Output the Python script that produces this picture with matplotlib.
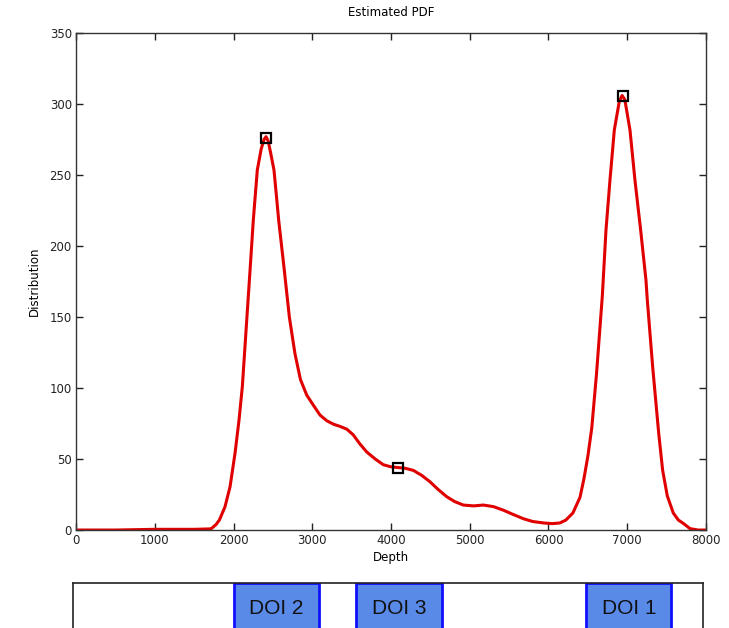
import matplotlib
matplotlib.use("Agg")
import matplotlib.pyplot as plt
from matplotlib.patches import Rectangle

# estimated PDF (depth, distribution)
depth = [0, 500, 1000, 1500, 1700, 1723, 1780, 1820, 1892, 1956, 2019, 2070,
         2112, 2168, 2210, 2251, 2302, 2350, 2387, 2413, 2440, 2470, 2514,
         2574, 2645, 2709, 2781, 2850, 2930, 3013, 3098, 3183, 3270, 3352,
         3440, 3521, 3600, 3691, 3800, 3902, 4000, 4089, 4180, 4284, 4390,
         4495, 4600, 4707, 4810, 4918, 5050, 5172, 5300, 5426, 5550, 5680,
         5800, 5934, 6050, 6146, 6220, 6310, 6400, 6450, 6500, 6550, 6610,
         6684, 6730, 6781, 6836, 6900, 6935, 6970, 7035, 7098, 7171, 7238,
         7255, 7323, 7400, 7450, 7509, 7585, 7650, 7712, 7797, 7900, 8000]
dist = [0, 0, 0.5, 0.5, 0.8, 1.2, 4, 7, 16.4, 30.5, 54, 77.5,
        101, 148, 183, 218, 253.5, 268, 275, 277, 274, 266, 253.5,
        218, 183, 150, 124, 106, 95, 88, 81, 77, 74.5, 73,
        71, 67, 61, 55, 50, 46, 44.5, 44, 43.5, 42, 38.5,
        34, 28.5, 23.5, 20, 17.6, 17, 17.6, 16.5, 14, 11, 8,
        6, 5, 4.5, 5, 7, 12, 23, 36, 52, 72, 110,
        165, 211, 246.5, 281.7, 302, 306, 303, 281.7, 246.5, 211, 176,
        162, 115, 68, 42, 24, 12, 7, 4.7, 1, 0, 0]

# peaks marked with squares
peak_depth = [2413, 4089, 6942]
peak_dist = [276, 44, 306]

# depth intervals of interest
doi_labels = ["DOI 2", "DOI 3", "DOI 1"]
doi_start = [2000, 3560, 6480]
doi_end = [3090, 4640, 7560]

plt.rcParams["font.family"] = ["DejaVu Sans"]

fig = plt.figure(figsize=(7.29, 6.28), dpi=100)

ax = fig.add_axes([0.1043, 0.156, 0.8641, 0.7914])
ax.plot(depth, dist, color="#e00000", lw=2.2, zorder=2)
ax.plot(peak_depth, peak_dist, "s", ms=6.5, mfc="none", mec="black", mew=1.6, zorder=3)
ax.set_xlim(0, 8000)
ax.set_ylim(0, 350)
ax.set_xticks(range(0, 8001, 1000))
ax.set_yticks(range(0, 351, 50))
ax.tick_params(direction="in", length=5, width=1, top=True, right=True,
               labelsize=8.5, colors="#222222", pad=3)
for s in ax.spines.values():
    s.set_color("#333333")
    s.set_linewidth(1)
ax.set_title("Estimated PDF", fontsize=8.5, pad=12)
ax.set_xlabel("Depth", fontsize=8.5, labelpad=3)
ax.set_ylabel("Distribution", fontsize=8.5, labelpad=6)

# lower strip with the depth intervals
ax2 = fig.add_axes([0.1001, -0.12, 0.8642, 0.1916])
ax2.set_xlim(-40, 7960)
ax2.set_ylim(0, 1)
ax2.set_xticks([])
ax2.set_yticks([])
for s in ax2.spines.values():
    s.set_color("#222222")
    s.set_linewidth(1.2)
for lab, a, b in zip(doi_labels, doi_start, doi_end):
    ax2.add_patch(Rectangle((a, -0.1), b - a, 1.1, facecolor="#5a8ae8",
                            edgecolor="#1010ff", lw=2, zorder=2))
    ax2.text((a + b) / 2, 0.79, lab, ha="center", va="center",
             fontsize=15, family=["Liberation Sans", "DejaVu Sans"], color="#111111", zorder=3)

fig.savefig("out.png", dpi=100)
